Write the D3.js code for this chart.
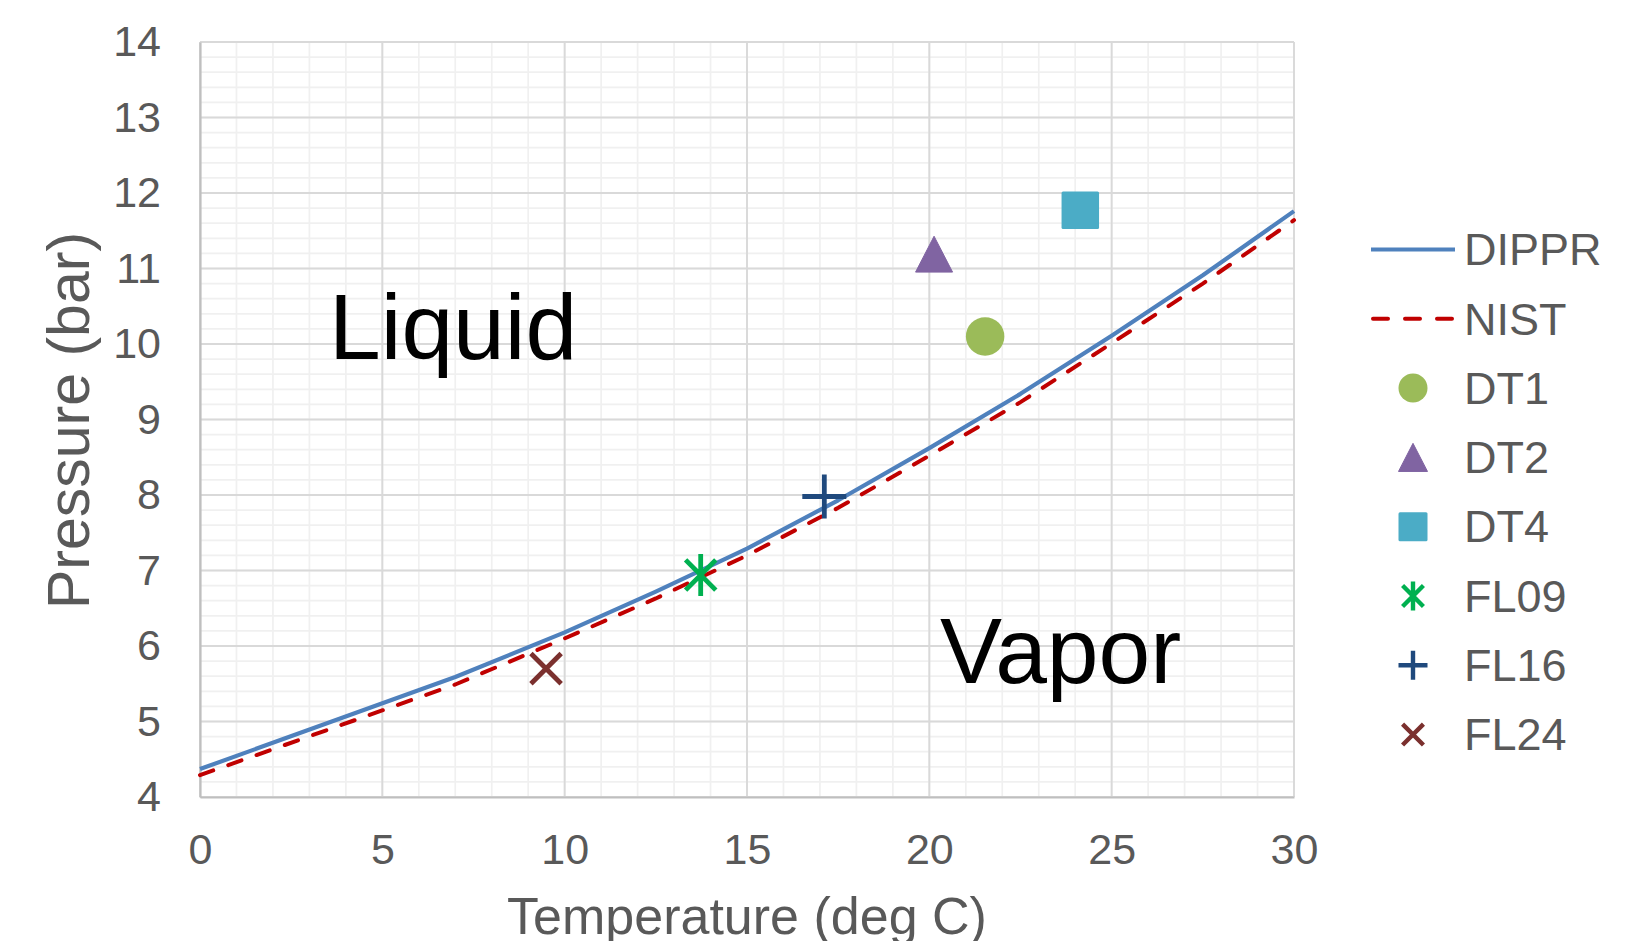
<!DOCTYPE html>
<html>
<head>
<meta charset="utf-8">
<script src="https://cdn.jsdelivr.net/npm/d3@7"></script>
<style>
  html, body { margin: 0; padding: 0; background: #fff; }
  svg { display: block; font-family: "Liberation Sans", Arial, sans-serif; }
</style>
</head>
<body>
<svg id="chart" width="1629" height="941"></svg>
<script>
// ---- data ----
const curveT = [0, 3.5, 7, 10, 12.5, 15, 17.5, 20, 22.5, 25, 27.5, 30];
const dipprP = [4.37, 4.98, 5.59, 6.18, 6.72, 7.29, 7.93, 8.62, 9.34, 10.11, 10.91, 11.76];
const nistP  = [4.29, 4.89, 5.49, 6.10, 6.63, 7.20, 7.83, 8.52, 9.23, 10.01, 10.80, 11.64];

const pointNames = ["DT1", "DT2", "DT4", "FL09", "FL16", "FL24"];
const pointT = [21.53, 20.13, 24.14, 13.73, 17.12, 9.49];
const pointP = [10.10, 11.19, 11.77, 6.94, 7.98, 5.70];

const xTicks = [0, 5, 10, 15, 20, 25, 30];
const yTicks = [4, 5, 6, 7, 8, 9, 10, 11, 12, 13, 14];
const legendNames = ["DIPPR", "NIST", "DT1", "DT2", "DT4", "FL09", "FL16", "FL24"];

// ---- styles ----
const colors = {
  DIPPR: "#4f81bd", NIST: "#c00000",
  DT1: "#9bbb59", DT2: "#8064a2", DT4: "#4bacc6",
  FL09: "#00b050", FL16: "#1f497d", FL24: "#7b302e"
};
const shapes = { DT1: "circle", DT2: "triangle", DT4: "square", FL09: "star", FL16: "plus", FL24: "x" };

const svg = d3.select("#chart");
const L = 200, R = 1294, T = 42, B = 797;
const x = d3.scaleLinear().domain([0, 30]).range([L, R]);
const y = d3.scaleLinear().domain([4, 14]).range([B, T]);

// minor grid
const g = svg.append("g");
d3.range(0, 30.001, 1).forEach(v => {
  g.append("line").attr("x1", x(v)).attr("x2", x(v)).attr("y1", T).attr("y2", B)
    .attr("stroke", "#f0f0f0").attr("stroke-width", 1.7);
});
d3.range(4, 14.001, 0.2).forEach(v => {
  g.append("line").attr("x1", L).attr("x2", R).attr("y1", y(v)).attr("y2", y(v))
    .attr("stroke", "#f0f0f0").attr("stroke-width", 1.7);
});
// major grid
xTicks.forEach(v => {
  g.append("line").attr("x1", x(v)).attr("x2", x(v)).attr("y1", T).attr("y2", B)
    .attr("stroke", "#d9d9d9").attr("stroke-width", 1.9);
});
yTicks.forEach(v => {
  g.append("line").attr("x1", L).attr("x2", R).attr("y1", y(v)).attr("y2", y(v))
    .attr("stroke", "#d9d9d9").attr("stroke-width", 1.9);
});

// axes
const xAxis = svg.append("g").attr("transform", `translate(0,${B})`)
  .call(d3.axisBottom(x).tickValues(xTicks).tickSize(0).tickPadding(36).tickFormat(d3.format("d")));
const yAxis = svg.append("g").attr("transform", `translate(${L},0)`)
  .call(d3.axisLeft(y).tickValues(yTicks).tickSize(0).tickPadding(39).tickFormat(d3.format("d")));
[xAxis, yAxis].forEach(a => {
  a.select(".domain").attr("stroke", "#bfbfbf").attr("stroke-width", 2.2);
  a.selectAll("text").attr("font-size", 43).attr("fill", "#595959")
    .attr("font-family", "Liberation Sans, Arial, sans-serif");
});
xAxis.selectAll("text").attr("dy", "0.72em");

// axis titles
svg.append("text").attr("x", (L + R) / 2).attr("y", 934).attr("text-anchor", "middle")
  .attr("font-size", 52).attr("fill", "#595959").text("Temperature (deg C)");
svg.append("text").attr("transform", `translate(89,${(T + B) / 2 + 1}) rotate(-90)`)
  .attr("text-anchor", "middle").attr("font-size", 59).attr("fill", "#595959").text("Pressure (bar)");

// annotations
svg.append("text").attr("x", 329).attr("y", 359).attr("font-size", 93).attr("fill", "#000").text("Liquid");
svg.append("text").attr("x", 940).attr("y", 683).attr("font-size", 93).attr("fill", "#000").text("Vapor");

// lines
const line = d3.line().x(d => x(d[0])).y(d => y(d[1]));
svg.append("path").datum(curveT.map((t, i) => [t, nistP[i]]))
  .attr("d", line).attr("fill", "none").attr("stroke", colors.NIST)
  .attr("stroke-width", 4).attr("stroke-dasharray", "14,16").attr("stroke-linecap", "round");
svg.append("path").datum(curveT.map((t, i) => [t, dipprP[i]]))
  .attr("d", line).attr("fill", "none").attr("stroke", colors.DIPPR)
  .attr("stroke-width", 4.2).attr("stroke-linejoin", "round");

// marker drawing
function drawMarker(sel, shape, cx, cy, s, color, sw) {
  const h = s / 2;
  if (shape === "circle") {
    sel.append("circle").attr("cx", cx).attr("cy", cy).attr("r", h).attr("fill", color);
  } else if (shape === "square") {
    sel.append("rect").attr("x", cx - h).attr("y", cy - h).attr("width", s).attr("height", s)
      .attr("rx", 1.5).attr("fill", color);
  } else if (shape === "triangle") {
    const hh = h * 0.97;
    sel.append("path").attr("d", `M${cx},${cy - hh}L${cx + h},${cy + hh}L${cx - h},${cy + hh}Z`)
      .attr("fill", color).attr("stroke", color).attr("stroke-width", 1).attr("stroke-linejoin", "round");
  } else if (shape === "plus") {
    sel.append("path").attr("d", `M${cx - h},${cy}L${cx + h},${cy}M${cx},${cy - h}L${cx},${cy + h}`)
      .attr("stroke", color).attr("stroke-width", sw).attr("fill", "none");
  } else if (shape === "x") {
    const d = h * 0.72;
    sel.append("path").attr("d", `M${cx - d},${cy - d}L${cx + d},${cy + d}M${cx - d},${cy + d}L${cx + d},${cy - d}`)
      .attr("stroke", color).attr("stroke-width", sw).attr("fill", "none");
  } else if (shape === "star") {
    const d = h * 0.72;
    sel.append("path").attr("d", `M${cx - d},${cy - d}L${cx + d},${cy + d}M${cx - d},${cy + d}L${cx + d},${cy - d}M${cx},${cy - h}L${cx},${cy + h}`)
      .attr("stroke", color).attr("stroke-width", sw).attr("fill", "none");
  }
}

const chartSize = { circle: 38.5, triangle: 37, square: 37.5, star: 42, plus: 44, x: 42 };
const mg = svg.append("g");
pointNames.forEach((n, i) => {
  const sh = shapes[n];
  drawMarker(mg, sh, x(pointT[i]), y(pointP[i]), chartSize[sh], colors[n], 4.8);
});

// legend
const legendX = 1413, legendTextX = 1464, legendY0 = 249.5, legendStep = 69.3;
const lg = svg.append("g");
legendNames.forEach((n, i) => {
  const ly = legendY0 + i * legendStep;
  if (n === "DIPPR") {
    lg.append("line").attr("x1", 1371).attr("x2", 1455).attr("y1", ly).attr("y2", ly)
      .attr("stroke", colors.DIPPR).attr("stroke-width", 4.2);
  } else if (n === "NIST") {
    lg.append("line").attr("x1", 1373).attr("x2", 1453).attr("y1", ly).attr("y2", ly)
      .attr("stroke", colors.NIST).attr("stroke-width", 4)
      .attr("stroke-dasharray", "15,17").attr("stroke-linecap", "round");
  } else {
    const sh = shapes[n];
    drawMarker(lg, sh, legendX, ly, 29, colors[n], 4.4);
  }
  lg.append("text").attr("x", legendTextX).attr("y", ly).attr("dy", "0.35em")
    .attr("font-size", 45).attr("fill", "#595959").text(n);
});
</script>
</body>
</html>
